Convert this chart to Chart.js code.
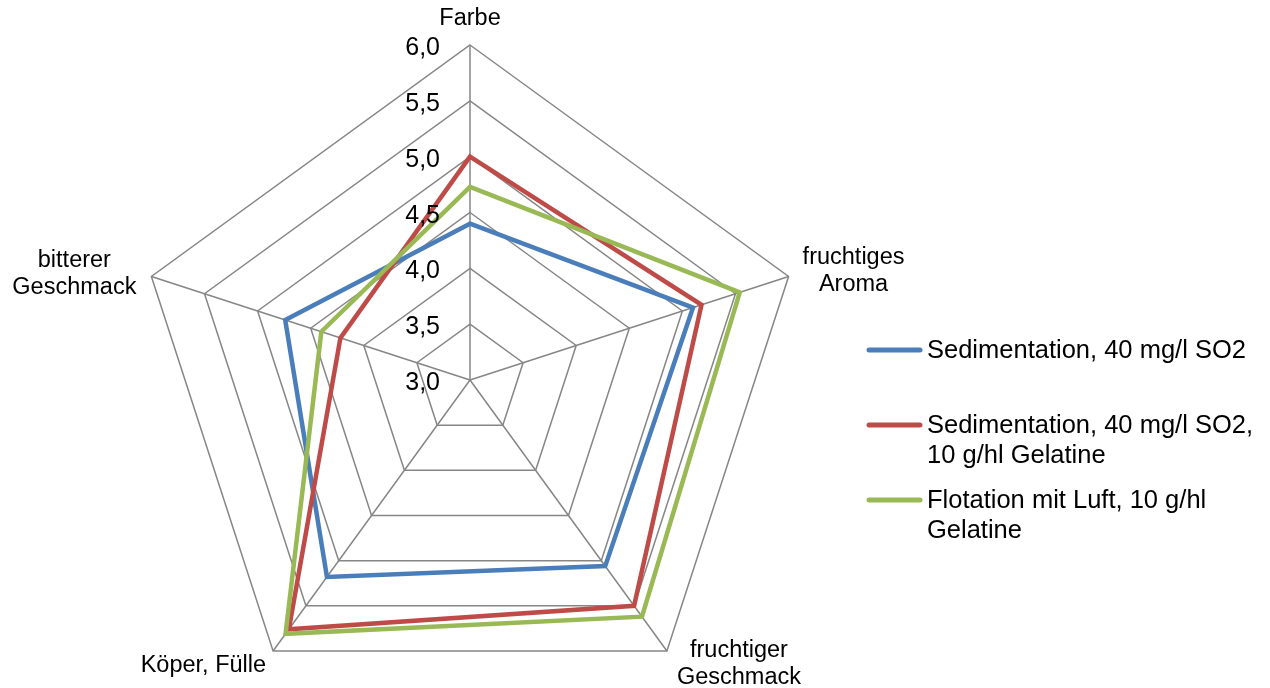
<!DOCTYPE html>
<html>
<head>
<meta charset="utf-8">
<script src="https://cdn.jsdelivr.net/npm/chart.js@4/dist/chart.umd.min.js"></script>
<style>
  html, body { margin: 0; padding: 0; background: #fff; overflow: hidden; }
  #wrap { width: 1270px; height: 688px; overflow: hidden; }
  canvas { display: block; }
</style>
</head>
<body>
<div id="wrap"><canvas id="c" width="1270" height="720" style="width:1270px;height:720px"></canvas></div>
<script>
// Sensory attributes (multi-line labels as printed around the web)
const categories = [
  ['Farbe'],
  ['fruchtiges', 'Aroma'],
  ['fruchtiger', 'Geschmack'],
  ['Köper, Fülle'],
  ['bitterer', 'Geschmack']
];

const seriesNames = [
  'Sedimentation, 40 mg/l SO2',
  'Sedimentation, 40 mg/l SO2, 10 g/hl Gelatine',
  'Flotation mit Luft, 10 g/hl Gelatine'
];

const sedimentation         = [4.40, 5.10, 5.06, 5.18, 4.74];
const sedimentationGelatine = [5.00, 5.18, 5.50, 5.76, 4.22];
const flotationGelatine     = [4.73, 5.54, 5.62, 5.81, 4.40];

const tickValues = [3.0, 3.5, 4.0, 4.5, 5.0, 5.5, 6.0];
const tickLabels = ['3,0', '3,5', '4,0', '4,5', '5,0', '5,5', '6,0'];

const FONT = '"Liberation Sans", Arial, sans-serif';
const COLORS = ['#4A7EBB', '#BE4B48', '#98B954'];
const GRID = '#868686';

// Where each attribute label sits relative to its outer web corner
const labelPlacement = [
  { align: 'center', dx: 0,  dy: -20 },
  { align: 'left',   dx: 14, dy: -12 },
  { align: 'left',   dx: 10, dy: 6 },
  { align: 'right',  dx: 7,  dy: 21 },
  { align: 'right',  dx: 15, dy: -9 }
];

function wrapText(ctx, text, maxWidth) {
  const words = text.split(' ');
  const lines = [];
  let cur = '';
  for (const w of words) {
    const test = cur ? cur + ' ' + w : w;
    if (cur && ctx.measureText(test).width > maxWidth) {
      lines.push(cur);
      cur = w;
    } else {
      cur = test;
    }
  }
  if (cur) lines.push(cur);
  return lines;
}

const radarText = {
  id: 'radarText',
  afterDraw(chart) {
    const ctx = chart.ctx;
    const s = chart.scales.r;
    ctx.save();
    ctx.fillStyle = '#000';
    ctx.textBaseline = 'alphabetic';

    // value ticks, left of the vertical axis
    ctx.font = '25px ' + FONT;
    ctx.textAlign = 'right';
    tickValues.forEach((v, i) => {
      const y = s.yCenter - s.getDistanceFromCenterForValue(v);
      ctx.fillText(tickLabels[i], s.xCenter - 30, y + 10);
    });

    // attribute labels
    ctx.font = '23.5px ' + FONT;
    ctx.textAlign = 'center';
    chart.data.labels.forEach((lines, i) => {
      const p = s.getPointPosition(i, s.drawingArea);
      const pl = labelPlacement[i];
      const w = Math.max(...lines.map(l => ctx.measureText(l).width));
      let cx;
      if (pl.align === 'center') cx = p.x + pl.dx;
      else if (pl.align === 'left') cx = p.x + pl.dx + w / 2;
      else cx = p.x - pl.dx - w / 2;
      lines.forEach((l, k) => ctx.fillText(l, cx, p.y + pl.dy + k * 27));
    });

    // legend
    ctx.font = '25.5px ' + FONT;
    ctx.textAlign = 'left';
    ctx.lineCap = 'round';
    chart.data.datasets.forEach((ds, i) => {
      const y = 350 + i * 75;
      ctx.strokeStyle = ds.borderColor;
      ctx.lineWidth = 5;
      ctx.beginPath();
      ctx.moveTo(869, y);
      ctx.lineTo(920, y);
      ctx.stroke();
      const lines = wrapText(ctx, ds.label, 345);
      lines.forEach((l, k) => ctx.fillText(l, 927, y + 7.5 + k * 30.5));
    });
    ctx.restore();
  }
};

const seriesValues = [sedimentation, sedimentationGelatine, flotationGelatine];

new Chart(document.getElementById('c'), {
  type: 'radar',
  data: {
    labels: categories,
    datasets: seriesValues.map((vals, i) => ({
      label: seriesNames[i],
      data: vals,
      borderColor: COLORS[i],
      backgroundColor: 'transparent',
      borderWidth: 4.5,
      borderJoinStyle: 'miter',
      fill: false,
      tension: 0,
      pointRadius: 0,
      pointHoverRadius: 0,
      order: 3 - i
    }))
  },
  options: {
    responsive: false,
    animation: false,
    devicePixelRatio: 1,
    layout: { padding: { left: 135, right: 465, top: 45, bottom: 5 } },
    plugins: {
      legend: { display: false },
      tooltip: { enabled: false }
    },
    scales: {
      r: {
        min: 3,
        max: 6,
        ticks: { display: false, stepSize: 0.5 },
        pointLabels: { display: false },
        grid: { color: GRID, lineWidth: 1.5 },
        angleLines: { color: GRID, lineWidth: 1.5 }
      }
    }
  },
  plugins: [radarText]
});
</script>
</body>
</html>
